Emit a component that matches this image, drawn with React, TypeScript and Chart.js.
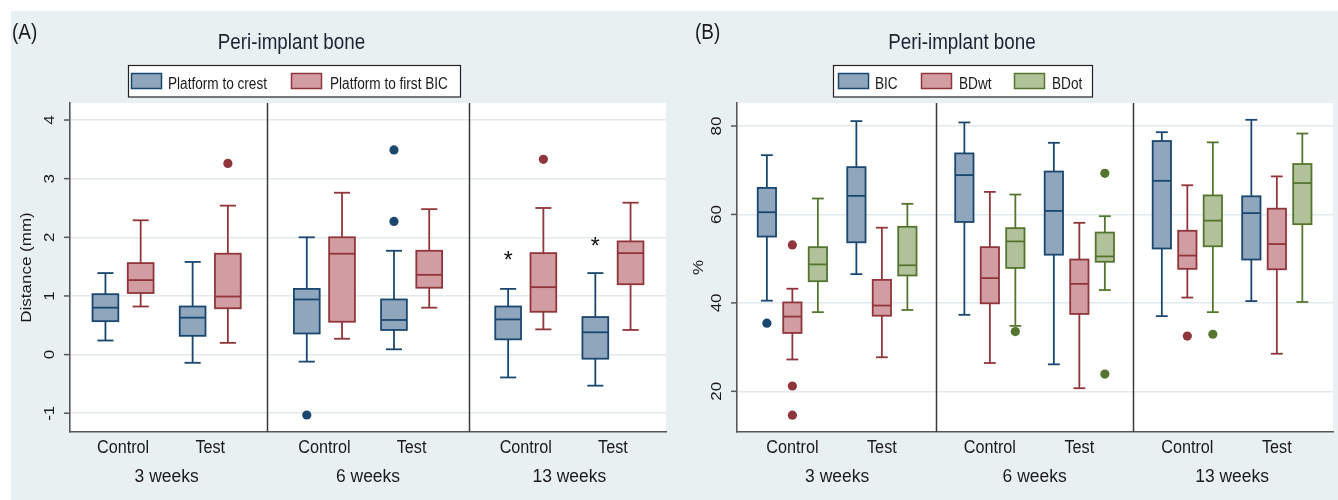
import React, { useEffect, useRef } from 'react';
import { Chart, registerables } from 'chart.js';

Chart.register(...registerables);

// ---------- shared categories ----------
const groups = ['3 weeks', '6 weeks', '13 weeks'];
const arms = ['Control', 'Test'];

// ---------- Panel A: distances (mm) ----------
// five-number summaries [lower whisker, Q1, median, Q3, upper whisker]
// order: 3w Control, 3w Test, 6w Control, 6w Test, 13w Control, 13w Test
const seriesA = ['Platform to crest', 'Platform to first BIC'];
const yTicksA = [-1, 0, 1, 2, 3, 4];
const crestStats = [
  [0.24, 0.57, 0.8, 1.03, 1.39],
  [-0.14, 0.32, 0.63, 0.82, 1.58],
  [-0.12, 0.36, 0.94, 1.12, 2.0],
  [0.09, 0.42, 0.59, 0.94, 1.77],
  [-0.39, 0.26, 0.6, 0.82, 1.12],
  [-0.53, -0.07, 0.38, 0.64, 1.39],
];
const crestOutliers = [[], [], [-1.03], [3.49, 2.27], [], []];
const crestStars = [null, null, null, null, 1.69, 1.94];
const firstBicStats = [
  [0.82, 1.05, 1.27, 1.56, 2.29],
  [0.2, 0.79, 0.99, 1.72, 2.54],
  [0.27, 0.56, 1.72, 2.0, 2.76],
  [0.8, 1.14, 1.36, 1.77, 2.48],
  [0.43, 0.73, 1.15, 1.73, 2.5],
  [0.42, 1.2, 1.73, 1.93, 2.59],
];
const firstBicOutliers = [[], [3.26], [], [], [3.33], []];

// ---------- Panel B: percentages ----------
const seriesB = ['BIC', 'BDwt', 'BDot'];
const yTicksB = [20, 40, 60, 80];
const bicStats = [
  [40.5, 55.0, 60.5, 66.0, 73.4],
  [46.5, 53.7, 64.2, 70.7, 81.1],
  [37.3, 58.3, 68.9, 73.8, 80.8],
  [26.1, 50.9, 60.8, 69.7, 76.2],
  [37.0, 52.3, 67.6, 76.6, 78.6],
  [40.4, 49.8, 60.3, 64.1, 81.4],
];
const bicOutliers = [[35.4], [], [], [], [], []];
const bdwtStats = [
  [27.2, 33.2, 36.9, 40.1, 43.2],
  [27.7, 37.1, 39.4, 45.2, 57.0],
  [26.4, 39.9, 45.6, 52.6, 65.1],
  [20.7, 37.5, 44.3, 49.8, 58.1],
  [41.2, 47.7, 50.7, 56.3, 66.6],
  [28.5, 47.6, 53.3, 61.3, 68.6],
];
const bdwtOutliers = [[53.1, 21.2, 14.6], [], [], [], [32.5], []];
const bdotStats = [
  [37.9, 44.9, 48.7, 52.6, 63.6],
  [38.4, 46.2, 48.5, 57.2, 62.4],
  [34.8, 47.9, 53.9, 56.9, 64.5],
  [42.9, 49.3, 50.5, 55.9, 59.6],
  [37.9, 52.8, 58.6, 64.3, 76.3],
  [40.2, 57.8, 67.1, 71.4, 78.3],
];
const bdotOutliers = [[], [], [33.5], [69.3, 23.9], [32.9], []];

// ---------- styles ----------
const strokeCols = ['#1a476f', '#90353b', '#55752f'];
const fillCols = ['#8fa6bd', '#d19da2', '#b1c29a'];
const FONT = '"Liberation Sans", Arial, Helvetica, sans-serif';
const TEXT = '#1a1a1a';
const AXIS = '#575757';
const BG = '#e9f0f2';

interface Panel {
  letter: string;
  title: string;
  yTitle: string;
  series: string[];
  stats: number[][][];
  outliers: number[][][];
  stars: (number | null)[] | null;
  yTicks: number[];
  yMin: number;
  yMax: number;
  xMin: number;
  xMax: number;
  armOffset: number;
  seriesOffsets: number[];
  boxW: number;
  capW: number;
  canvasLeft: number;
  canvasW: number;
  plotLeft: number;
  plotRight: number;
  plotTop: number;
  plotBottom: number;
  letterX: number;
  titleX: number;
  yTickLabelX: number;
  yTitleX: number;
  legendBox: [number, number];
  legendSwatches: number[];
  legendTexts: number[];
}

const panelA: Panel = {
  letter: '(A)',
  title: 'Peri-implant bone',
  yTitle: 'Distance (mm)',
  series: seriesA,
  stats: [crestStats, firstBicStats],
  outliers: [crestOutliers, firstBicOutliers],
  stars: crestStars,
  yTicks: yTicksA,
  yMin: -1.32,
  yMax: 4.29,
  xMin: -0.48,
  xMax: 2.48,
  armOffset: 0.2165,
  seriesOffsets: [-0.0875, 0.0875],
  boxW: 0.128,
  capW: 0.08,
  canvasLeft: 0,
  canvasW: 683,
  plotLeft: 70,
  plotRight: 666,
  plotTop: 103,
  plotBottom: 432,
  letterX: 12,
  titleX: 291.5,
  yTickLabelX: 50,
  yTitleX: 27,
  legendBox: [128, 460],
  legendSwatches: [131, 291],
  legendTexts: [168, 330],
};

const panelB: Panel = {
  letter: '(B)',
  title: 'Peri-implant bone',
  yTitle: '%',
  series: seriesB,
  stats: [bicStats, bdwtStats, bdotStats],
  outliers: [bicOutliers, bdwtOutliers, bdotOutliers],
  stars: null,
  yTicks: yTicksB,
  yMin: 10.8,
  yMax: 85.2,
  xMin: -0.507,
  xMax: 2.511,
  armOffset: 0.2266,
  seriesOffsets: [-0.1291, 0, 0.1291],
  boxW: 0.0927,
  capW: 0.06,
  canvasLeft: 683,
  canvasW: 655,
  plotLeft: 737,
  plotRight: 1333,
  plotTop: 103,
  plotBottom: 432,
  letterX: 695,
  titleX: 962,
  yTickLabelX: 716.7,
  yTitleX: 698.3,
  legendBox: [833, 1092],
  legendSwatches: [838, 921, 1014],
  legendTexts: [875, 959, 1052],
};

function boxPos(p: Panel, s: number, i: number) {
  const g = Math.floor(i / 2);
  const a = i % 2;
  return g + (a === 0 ? -p.armOffset : p.armOffset) + p.seriesOffsets[s];
}

function drawText(
  ctx: CanvasRenderingContext2D,
  s: string,
  x: number,
  y: number,
  size: number,
  opts: { align?: CanvasTextAlign; baseline?: CanvasTextBaseline; sx?: number; rot?: number; color?: string } = {}
) {
  ctx.save();
  ctx.translate(x, y);
  ctx.scale(opts.sx ?? 1, 1);
  if (opts.rot) ctx.rotate(opts.rot);
  ctx.font = `${size}px ${FONT}`;
  ctx.fillStyle = opts.color ?? TEXT;
  ctx.textAlign = opts.align ?? 'center';
  ctx.textBaseline = opts.baseline ?? 'alphabetic';
  ctx.fillText(s, 0, 0);
  ctx.restore();
}

function line(ctx: CanvasRenderingContext2D, x1: number, y1: number, x2: number, y2: number) {
  ctx.beginPath();
  ctx.moveTo(x1, y1);
  ctx.lineTo(x2, y2);
  ctx.stroke();
}

function makePlugin(p: Panel) {
  const off = p.canvasLeft;
  return {
    id: 'boxpanel' + p.letter.replace(/\W/g, ''),
    beforeDraw(chart: any) {
      const { ctx, chartArea: a } = chart;
      ctx.save();
      ctx.fillStyle = '#ffffff';
      ctx.fillRect(a.left, a.top, a.right - a.left, a.bottom - a.top);
      ctx.restore();
    },
    beforeDatasetsDraw(chart: any) {
      const { ctx } = chart;
      const xs = chart.scales.x;
      const ys = chart.scales.y;
      ctx.save();
      ctx.lineWidth = 1.8;
      p.stats.forEach((arr, s) => {
        arr.forEach((st, i) => {
          const xv = boxPos(p, s, i);
          const cx = xs.getPixelForValue(xv);
          const hw = xs.getPixelForValue(xv + p.boxW / 2) - cx;
          const cw = xs.getPixelForValue(xv + p.capW / 2) - cx;
          const [lo, q1, md, q3, hi] = st.map((v) => ys.getPixelForValue(v));
          ctx.strokeStyle = strokeCols[s];
          line(ctx, cx, hi, cx, q3);
          line(ctx, cx, q1, cx, lo);
          line(ctx, cx - cw, hi, cx + cw, hi);
          line(ctx, cx - cw, lo, cx + cw, lo);
          ctx.fillStyle = fillCols[s];
          ctx.fillRect(cx - hw, q3, 2 * hw, q1 - q3);
          ctx.strokeRect(cx - hw, q3, 2 * hw, q1 - q3);
          line(ctx, cx - hw, md, cx + hw, md);
        });
      });
      ctx.restore();
    },
    afterDraw(chart: any) {
      const { ctx, chartArea: a } = chart;
      const xs = chart.scales.x;
      const ys = chart.scales.y;
      ctx.save();
      // group dividers
      ctx.strokeStyle = '#3a3a3a';
      ctx.lineWidth = 1.5;
      for (let g = 1; g < groups.length; g++) {
        const x = Math.round(xs.getPixelForValue(g - 0.5)) + 0.5;
        line(ctx, x, a.top, x, a.bottom);
      }
      // y tick marks and rotated labels
      ctx.strokeStyle = AXIS;
      ctx.lineWidth = 1.5;
      p.yTicks.forEach((t) => {
        const y = ys.getPixelForValue(t);
        line(ctx, a.left - 6, y, a.left, y);
        drawText(ctx, String(t), p.yTickLabelX - off, y, 17, {
          baseline: 'middle',
          rot: -Math.PI / 2,
          sx: 0.9,
        });
      });
      // y title
      drawText(ctx, p.yTitle, p.yTitleX - off, (a.top + a.bottom) / 2, 17, {
        baseline: 'middle',
        rot: -Math.PI / 2,
        sx: 0.9,
      });
      // x labels
      groups.forEach((gl, g) => {
        arms.forEach((al, k) => {
          const x = xs.getPixelForValue(g + (k === 0 ? -p.armOffset : p.armOffset));
          drawText(ctx, al, x, 453, 18, { sx: 0.9 });
        });
        drawText(ctx, gl, xs.getPixelForValue(g), 481.5, 18, { sx: 0.97 });
      });
      // stars
      if (p.stars) {
        p.stars.forEach((v, i) => {
          if (v === null) return;
          const x = xs.getPixelForValue(boxPos(p, 0, i));
          const y = ys.getPixelForValue(v);
          drawText(ctx, '*', x, y + 13, 23, { color: '#111' });
        });
      }
      // panel letter & title
      drawText(ctx, p.letter, p.letterX - off, 39, 22, { align: 'left', sx: 0.86 });
      drawText(ctx, p.title, p.titleX - off, 49, 22, { sx: 0.855, color: '#1c2330' });
      // legend
      const [l0, l1] = p.legendBox;
      ctx.fillStyle = '#ffffff';
      ctx.fillRect(l0 - off, 65, l1 - l0, 32);
      ctx.strokeStyle = '#222';
      ctx.lineWidth = 1.2;
      ctx.strokeRect(l0 - off + 0.5, 65.5, l1 - l0, 31.5);
      p.series.forEach((name, s) => {
        const sx0 = p.legendSwatches[s] - off;
        ctx.fillStyle = fillCols[s];
        ctx.fillRect(sx0, 73, 31, 16);
        ctx.strokeStyle = strokeCols[s];
        ctx.lineWidth = 1.5;
        ctx.strokeRect(sx0 + 0.5, 73.5, 30, 15);
        drawText(ctx, name, p.legendTexts[s] - off, 88.5, 16, { align: 'left', sx: 0.85 });
      });
      ctx.restore();
    },
  };
}

function buildConfig(p: Panel): any {
  return {
    type: 'scatter',
    data: {
      datasets: p.series.map((name, s) => ({
        label: name,
        data: p.outliers[s].flatMap((vals, i) => vals.map((v) => ({ x: boxPos(p, s, i), y: v }))),
        pointRadius: 4.6,
        pointHoverRadius: 4.6,
        pointBackgroundColor: strokeCols[s],
        pointBorderWidth: 0,
        showLine: false,
      })),
    },
    options: {
      animation: false,
      responsive: false,
      events: [],
      layout: {
        padding: {
          left: p.plotLeft - p.canvasLeft,
          right: p.canvasLeft + p.canvasW - p.plotRight,
          top: p.plotTop,
          bottom: 500 - p.plotBottom,
        },
      },
      plugins: {
        legend: { display: false },
        tooltip: { enabled: false },
        title: { display: false },
      },
      scales: {
        x: {
          type: 'linear',
          min: p.xMin,
          max: p.xMax,
          bounds: 'data',
          ticks: { display: false },
          grid: { display: false, drawTicks: false },
          border: { display: true, color: AXIS, width: 1.6 },
        },
        y: {
          type: 'linear',
          min: p.yMin,
          max: p.yMax,
          bounds: 'data',
          afterBuildTicks: (scale: any) => {
            scale.ticks = p.yTicks.map((v) => ({ value: v }));
          },
          ticks: { display: false },
          grid: { color: '#e2eaee', lineWidth: 1.5, drawTicks: false },
          border: { display: true, color: AXIS, width: 1.6 },
        },
      },
    },
    plugins: [makePlugin(p)],
  };
}

function PanelChart({ p }: { p: Panel }) {
  const ref = useRef<HTMLCanvasElement>(null);
  useEffect(() => {
    const chart = new Chart(ref.current as HTMLCanvasElement, buildConfig(p));
    return () => chart.destroy();
  }, [p]);
  return (
    <canvas
      ref={ref}
      width={p.canvasW}
      height={500}
      style={{ position: 'absolute', left: p.canvasLeft, top: 0, width: p.canvasW, height: 500 }}
    />
  );
}

export default function App() {
  return (
    <div
      style={{
        position: 'fixed',
        left: 0,
        top: 0,
        width: 1338,
        height: 500,
        background: '#ffffff',
        overflow: 'hidden',
      }}
    >
      <div style={{ position: 'absolute', left: 11, top: 11, width: 1327, height: 489, background: BG }} />
      <PanelChart p={panelA} />
      <PanelChart p={panelB} />
    </div>
  );
}
